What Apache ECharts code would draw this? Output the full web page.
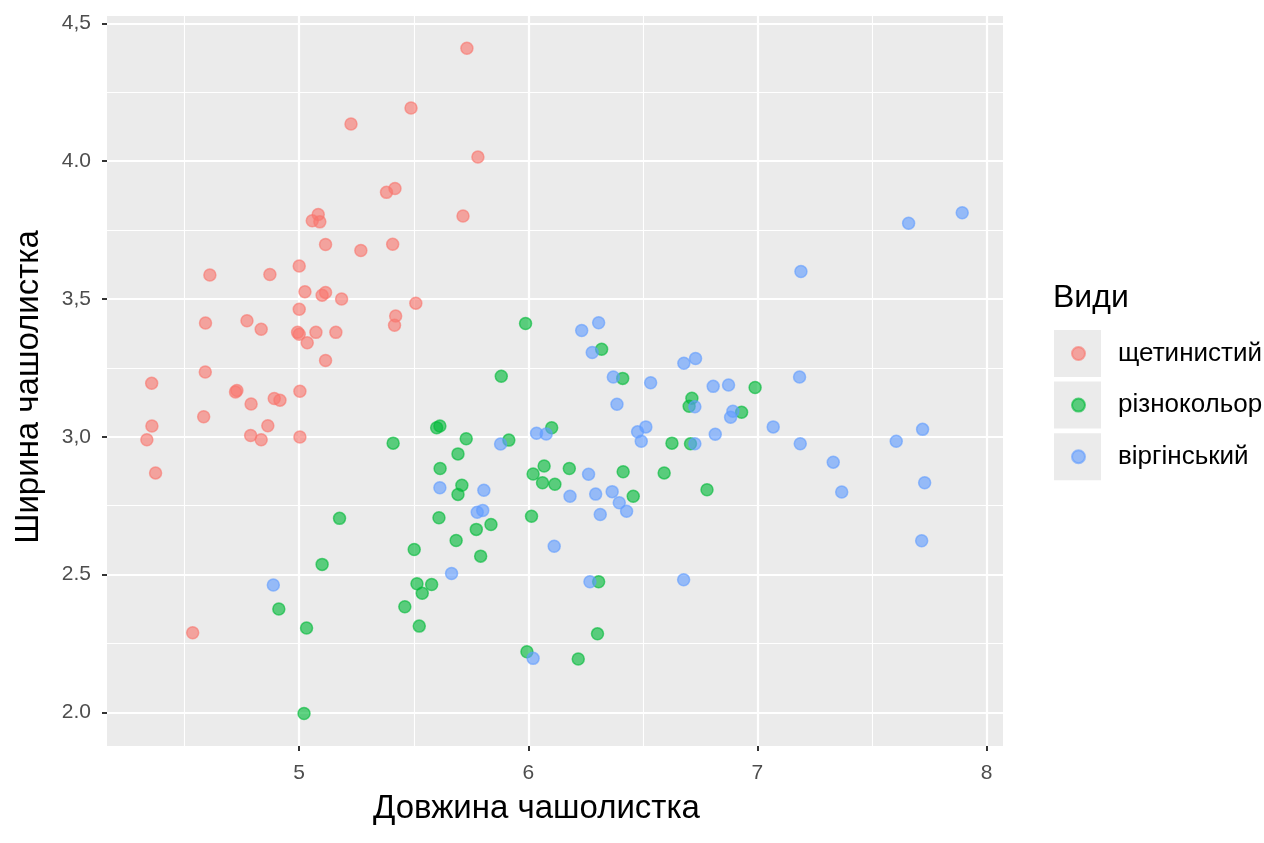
<!DOCTYPE html>
<html lang="uk">
<head>
<meta charset="utf-8">
<title>Ірис: довжина і ширина чашолистка</title>
<script src="https://cdn.jsdelivr.net/npm/echarts@6/dist/echarts.min.js"></script>
<style>
  html, body { margin: 0; padding: 0; background: #fff; }
  #chart { width: 1264px; height: 843px; }
</style>
</head>
<body>
<div id="chart"></div>
<script>
// ===== 数据 =====
const SPECIES = ['щетинистий', 'різнокольор', 'віргінський'];

const setosaLength = [5.732, 5.488, 5.780, 5.226, 5.381, 5.418, 5.715, 5.083, 5.057, 5.090,
  5.115, 5.408, 5.269, 4.610, 4.872, 5.000, 5.025, 5.100, 5.115, 5.185,
  5.509, 5.000, 5.421, 5.416, 4.591, 4.772, 4.834, 4.993, 5.000, 5.073,
  5.160, 5.035, 5.115, 4.590, 4.356, 4.722, 4.728, 5.003, 4.790, 4.891,
  4.916, 4.583, 4.357, 4.863, 4.788, 4.834, 5.003, 4.335, 4.373, 4.535];
const setosaWidth = [4.410, 4.193, 4.015, 4.135, 3.887, 3.901, 3.801, 3.807, 3.784, 3.780,
  3.698, 3.699, 3.676, 3.587, 3.589, 3.620, 3.526, 3.514, 3.524, 3.500,
  3.485, 3.463, 3.438, 3.405, 3.413, 3.421, 3.390, 3.379, 3.372, 3.379,
  3.379, 3.341, 3.277, 3.235, 3.194, 3.163, 3.168, 3.165, 3.119, 3.139,
  3.133, 3.073, 3.039, 3.040, 3.005, 2.989, 2.999, 2.989, 2.869, 2.289];

const versicolorLength = [5.410, 5.176, 5.100, 4.911, 5.032, 5.021, 5.502, 5.514, 5.578, 5.537,
  5.461, 5.524, 5.988, 6.320, 5.882, 6.412, 5.614, 5.600, 6.102, 5.729,
  5.915, 5.693, 5.615, 6.069, 6.021, 6.179, 6.062, 6.116, 6.414, 5.710,
  5.693, 5.610, 5.837, 5.773, 6.014, 5.685, 5.792, 6.307, 6.302, 5.994,
  6.218, 6.990, 6.714, 6.702, 6.931, 6.627, 6.708, 6.593, 6.780, 6.458];
const versicolorWidth = [2.977, 2.704, 2.537, 2.375, 2.306, 1.996, 2.591, 2.467, 2.464, 2.432,
  2.383, 2.313, 3.411, 3.318, 3.220, 3.212, 3.039, 3.033, 3.033, 2.993,
  2.988, 2.938, 2.885, 2.894, 2.865, 2.885, 2.833, 2.828, 2.873, 2.824,
  2.791, 2.706, 2.682, 2.664, 2.712, 2.624, 2.567, 2.474, 2.285, 2.220,
  2.194, 3.179, 3.140, 3.111, 3.089, 2.977, 2.975, 2.869, 2.808, 2.784];

const virginicaLength = [4.887, 5.614, 5.806, 5.777, 5.801, 5.665, 5.879, 6.021, 6.036, 6.078,
  6.113, 6.233, 6.307, 6.279, 6.371, 6.387, 6.263, 6.182, 6.294, 6.366,
  6.397, 6.429, 6.314, 6.269, 6.679, 6.730, 6.534, 6.807, 6.874, 6.727,
  6.893, 6.883, 7.069, 6.513, 6.477, 6.493, 6.816, 6.727, 6.678, 7.660,
  7.894, 7.190, 7.184, 7.187, 7.331, 7.368, 7.606, 7.721, 7.730, 7.717];
const virginicaWidth = [2.462, 2.815, 2.806, 2.726, 2.733, 2.504, 2.974, 2.196, 3.013, 3.010,
  2.603, 3.386, 3.414, 3.306, 3.217, 3.118, 2.864, 2.784, 2.792, 2.801,
  2.761, 2.730, 2.718, 2.474, 3.267, 3.284, 3.196, 3.183, 3.188, 3.109,
  3.093, 3.071, 3.036, 3.036, 3.018, 2.984, 3.009, 2.975, 2.481, 3.775,
  3.813, 3.600, 3.217, 2.975, 2.908, 2.800, 2.984, 3.027, 2.833, 2.623];

// 刻度
const xTicks = [5, 6, 7, 8];
const xTickLabels = ['5', '6', '7', '8'];
const xMinorTicks = [4.5, 5.5, 6.5, 7.5];
const yTicks = [2.0, 2.5, 3.0, 3.5, 4.0, 4.5];
const yTickLabels = ['2.0', '2.5', '3,0', '3,5', '4.0', '4,5'];
const yMinorTicks = [2.25, 2.75, 3.25, 3.75, 4.25];

// ===== 样式常量 =====
const FONT = '"Liberation Sans", Arial, sans-serif';
const COLORS = ['#F8766D', '#00BA38', '#619CFF'];
const PANEL_BG = '#EBEBEB';
const X_MIN = 4.161, X_MAX = 8.072;
const Y_MIN = 1.878, Y_MAX = 4.527;

const zip = (xs, ys) => xs.map((x, i) => [x, ys[i]]);
const labelFor = (ticks, labels) => (v) => {
  const i = ticks.findIndex((t) => Math.abs(t - v) < 1e-6);
  return i >= 0 ? labels[i] : '';
};

const seriesData = [
  zip(setosaLength, setosaWidth),
  zip(versicolorLength, versicolorWidth),
  zip(virginicaLength, virginicaWidth),
];

// 主轴：标签、刻度、主网格线
const majorAxis = (ticks, labels, extra) => ({
  type: 'value',
  axisLine: { show: false },
  axisTick: { show: true, length: 5, customValues: ticks, lineStyle: { color: '#333333', width: 2 } },
  splitLine: { show: true, lineStyle: { color: '#FFFFFF', width: 2.2 } },
  ...extra,
});

// 次网格线（只画线）
const minorAxis = (ticks, extra) => ({
  type: 'value',
  axisLine: { show: false },
  axisTick: { show: false, customValues: ticks },
  axisLabel: { show: false, customValues: ticks },
  splitLine: { show: true, lineStyle: { color: '#FFFFFF', width: 1.1 } },
  ...extra,
});

const tickLabel = (ticks, labels, margin) => ({
  customValues: ticks,
  formatter: labelFor(ticks, labels),
  color: '#4D4D4D',
  fontSize: 21,
  fontFamily: FONT,
  margin,
});

const KEY_LEFT = 1054, KEY_TOP = 330, KEY_STEP = 51.6, KEY_SIZE = 47;

const chart = echarts.init(document.getElementById('chart'), null, { renderer: 'canvas' });

chart.setOption({
  animation: false,
  backgroundColor: '#FFFFFF',
  textStyle: { fontFamily: FONT },
  title: {
    text: 'Види',
    left: KEY_LEFT - 1,
    top: 282,
    padding: 0,
    textStyle: { fontSize: 32, fontWeight: 'normal', color: '#000000', fontFamily: FONT },
  },
  graphic: SPECIES.map((_, i) => ({
    type: 'rect',
    left: KEY_LEFT,
    top: KEY_TOP + i * KEY_STEP,
    z: -1,
    shape: { width: KEY_SIZE, height: KEY_SIZE },
    style: { fill: PANEL_BG },
  })),
  legend: {
    data: SPECIES,
    orient: 'vertical',
    left: KEY_LEFT + KEY_SIZE / 2 - 6.5,
    top: KEY_TOP + KEY_SIZE / 2 - 13,
    padding: 0,
    icon: 'circle',
    itemWidth: 13,
    itemHeight: 13,
    itemGap: KEY_STEP - 26,
    textStyle: { fontSize: 26, lineHeight: 26, color: '#000000', fontFamily: FONT, padding: [0, 0, 0, 28] },
  },
  grid: {
    left: 107,
    right: 261,
    top: 16,
    bottom: 97,
    show: true,
    backgroundColor: PANEL_BG,
    borderWidth: 0,
    containLabel: false,
  },
  xAxis: [
    minorAxis(xMinorTicks, { min: X_MIN, max: X_MAX, position: 'top' }),
    majorAxis(xTicks, xTickLabels, {
      min: X_MIN,
      max: X_MAX,
      position: 'bottom',
      name: 'Довжина чашолистка',
      nameLocation: 'middle',
      nameGap: 46,
      nameTextStyle: { fontSize: 33, color: '#000000', fontFamily: FONT, padding: [0, 37, 0, 0] },
      axisLabel: tickLabel(xTicks, xTickLabels, 17),
    }),
  ],
  yAxis: [
    minorAxis(yMinorTicks, { min: Y_MIN, max: Y_MAX, position: 'right' }),
    majorAxis(yTicks, yTickLabels, {
      min: Y_MIN,
      max: Y_MAX,
      position: 'left',
      name: 'Ширина чашолистка',
      nameLocation: 'middle',
      nameGap: 62,
      nameTextStyle: { fontSize: 33, color: '#000000', fontFamily: FONT, padding: [0, 12, 0, 0] },
      axisLabel: tickLabel(yTicks, yTickLabels, 16),
    }),
  ],
  series: SPECIES.map((name, i) => ({
    name,
    type: 'scatter',
    xAxisIndex: 1,
    yAxisIndex: 1,
    data: seriesData[i],
    symbol: 'circle',
    symbolSize: 12,
    itemStyle: {
      color: COLORS[i],
      borderColor: COLORS[i],
      borderWidth: 1.5,
      opacity: 0.62,
    },
    emphasis: { disabled: true },
  })),
});
</script>
</body>
</html>
